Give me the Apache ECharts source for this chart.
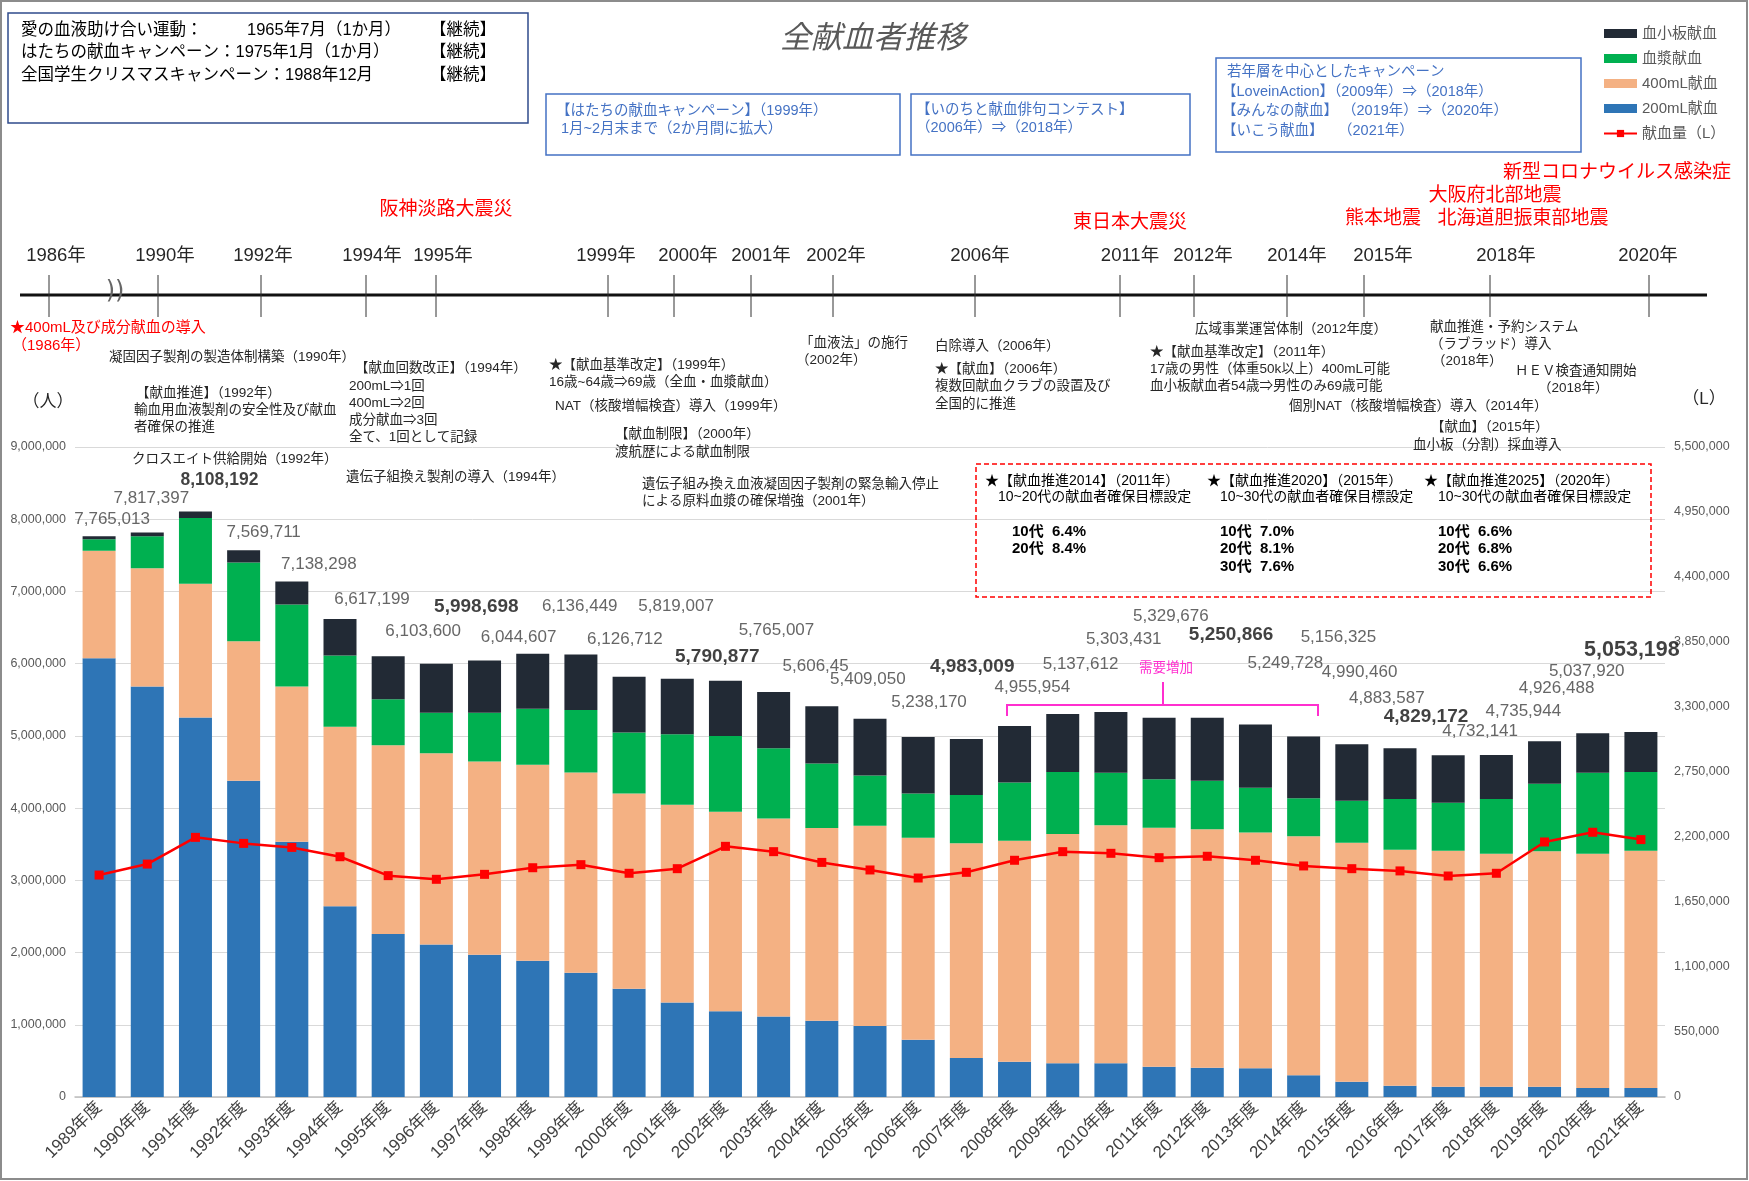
<!DOCTYPE html>
<html>
<head>
<meta charset="utf-8">
<script src="https://cdn.jsdelivr.net/npm/echarts/dist/echarts.min.js"></script>
<style>
  html, body { margin: 0; padding: 0; background: #fff; }
  #chart { width: 1749px; height: 1181px; }
</style>
</head>
<body>
<div id="chart"></div>
<script>
// 年度
const years = ['1989年度','1990年度','1991年度','1992年度','1993年度','1994年度','1995年度','1996年度','1997年度','1998年度',
  '1999年度','2000年度','2001年度','2002年度','2003年度','2004年度','2005年度','2006年度','2007年度','2008年度',
  '2009年度','2010年度','2011年度','2012年度','2013年度','2014年度','2015年度','2016年度','2017年度','2018年度',
  '2019年度','2020年度','2021年度'];

// 献血者数（人）
const v200 = [6076000,5684000,5255000,4378000,3535000,2640000,2258000,2110000,1968000,1885000,
  1719000,1498000,1309000,1189000,1115000,1055000,982000,794000,540000,489000,
  466000,466000,420000,406000,397000,300000,212000,157000,143000,143000,
  143000,125000,125000];
const v400 = [1486000,1638000,1850000,1933000,2149000,2485000,2612000,2650000,2677000,2714000,
  2774000,2705000,2737000,2760000,2742000,2669000,2774000,2796000,2972000,3060000,
  3175000,3295000,3309000,3300000,3267000,3309000,3309000,3267000,3267000,3226000,
  3258000,3244000,3285000];
const plasma = [161000,443000,913000,1089000,1136000,988000,639000,560000,675000,776000,
  864000,844000,978000,1051000,973000,893000,696000,614000,669000,807000,
  858000,729000,669000,673000,618000,526000,582000,702000,665000,757000,
  937000,1121000,1089000];
const platelet = [42000,52000,90000,170000,318000,504000,595000,679000,725000,761000,
  770000,772000,767000,765000,776000,792000,786000,779000,775000,782000,
  804000,840000,853000,871000,874000,855000,781000,703000,657000,610000,
  588000,548000,554000];
const totals = [7765013,7817397,8108192,7569711,7138298,6617199,6103600,5998698,6044607,6136449,
  6126712,5819007,5790877,5765007,5606450,5409050,5238170,4983009,4955954,5137612,
  5303431,5329676,5250866,5249728,5156325,4990460,4883587,4829172,4732141,4735944,
  4926488,5037920,5053198];
const totalText = ['7,765,013','7,817,397','8,108,192','7,569,711','7,138,298','6,617,199','6,103,600','5,998,698','6,044,607','6,136,449',
  '6,126,712','5,819,007','5,790,877','5,765,007','5,606,45','5,409,050','5,238,170','4,983,009','4,955,954','5,137,612',
  '5,303,431','5,329,676','5,250,866','5,249,728','5,156,325','4,990,460','4,883,587','4,829,172','4,732,141','4,735,944',
  '4,926,488','5,037,920','5,053,198'];
// 献血量（L）
const volume = [1878000,1971000,2197000,2146000,2112000,2033000,1873000,1842000,1884000,1940000,
  1966000,1893000,1932000,2121000,2076000,1985000,1921000,1853000,1901000,2003000,
  2076000,2062000,2025000,2037000,2003000,1955000,1932000,1913000,1870000,1893000,
  2158000,2240000,2178000];

// 合計ラベルのずらし（px）
const labelOffset = [[13,-17],[4,-34],[24,-31],[20,-18],[27,-17],[32,-20],[35,-25],[40,-57],[34,-23],[47,-47],
  [44,-15],[47,-70],[40,-22],[51,-50],[42,-26],[46,-27],[59,-16],[54,-70],[66,-52],[66,-62],
  [61,-75],[60,-96],[72,-83],[78,-55],[83,-87],[56,-64],[35,-46],[26,-31],[32,-24],[27,-44],
  [12,-53],[-6,-62],[-9,-82]];
const boldIdx = [2,7,12,17,22,27,32];
const boldSize = { 2: 17.5, 32: 21.5 };

// 年表
const timelineYears = ['1986年','1990年','1992年','1994年','1995年','1999年','2000年','2001年','2002年',
  '2006年','2011年','2012年','2014年','2015年','2018年','2020年'];
const tickX = [49,158,261,366,436,608,674,751,833,975,1120,1194,1287,1364,1490,1649];
const yearLabelX = [56,165,263,372,443,606,688,761,836,980,1130,1203,1297,1383,1506,1648];

const FONT = "'Liberation Sans','Noto Sans CJK JP',sans-serif";
const JP = "'Noto Sans CJK JP',sans-serif";

// 注記テキスト [text, x, y]
const notes = [
  ['凝固因子製剤の製造体制構築（1990年）', 109, 357],
  ['【献血推進】（1992年）', 136, 393],
  ['輸血用血液製剤の安全性及び献血', 134, 410],
  ['者確保の推進', 134, 427],
  ['クロスエイト供給開始（1992年）', 132, 459],
  ['【献血回数改正】（1994年）', 355, 368],
  ['200mL⇒1回', 349, 386],
  ['400mL⇒2回', 349, 403],
  ['成分献血⇒3回', 349, 420],
  ['全て、1回として記録', 349, 437],
  ['遺伝子組換え製剤の導入（1994年）', 346, 477],
  ['★【献血基準改定】（1999年）', 549, 365],
  ['16歳~64歳⇒69歳（全血・血漿献血）', 549, 382],
  ['NAT（核酸増幅検査）導入（1999年）', 555, 406],
  ['【献血制限】（2000年）', 615, 434],
  ['渡航歴による献血制限', 615, 452],
  ['遺伝子組み換え血液凝固因子製剤の緊急輸入停止', 642, 484],
  ['による原料血漿の確保増強（2001年）', 642, 501],
  ['「血液法」の施行', 800, 343],
  ['（2002年）', 796, 360],
  ['白除導入（2006年）', 935, 346],
  ['★【献血】（2006年）', 935, 369],
  ['複数回献血クラブの設置及び', 935, 386],
  ['全国的に推進', 935, 404],
  ['広域事業運営体制（2012年度）', 1195, 329],
  ['★【献血基準改定】（2011年）', 1150, 352],
  ['17歳の男性（体重50k以上）400mL可能', 1150, 369],
  ['血小板献血者54歳⇒男性のみ69歳可能', 1150, 386],
  ['個別NAT（核酸増幅検査）導入（2014年）', 1289, 406],
  ['【献血】（2015年）', 1431, 427],
  ['血小板（分割）採血導入', 1413, 445],
  ['献血推進・予約システム', 1430, 327],
  ['（ラブラッド）導入', 1430, 344],
  ['（2018年）', 1432, 361],
  ['ＨＥＶ検査通知開始', 1515, 371],
  ['（2018年）', 1538, 388]
];

const disasters = [
  ['阪神淡路大震災', 446, 208],
  ['東日本大震災', 1130, 221],
  ['熊本地震', 1383, 217],
  ['大阪府北部地震', 1495, 194],
  ['北海道胆振東部地震', 1523, 217],
  ['新型コロナウイルス感染症', 1617, 171]
];

const targetBox = [
  ['★【献血推進2014】（2011年）', 985, 481],
  ['10~20代の献血者確保目標設定', 998, 497],
  ['★【献血推進2020】（2015年）', 1207, 481],
  ['10~30代の献血者確保目標設定', 1220, 497],
  ['★【献血推進2025】（2020年）', 1424, 481],
  ['10~30代の献血者確保目標設定', 1438, 497]
];
const targetRates = [
  ['10代  6.4%', 1012, 532], ['20代  8.4%', 1012, 549],
  ['10代  7.0%', 1220, 532], ['20代  8.1%', 1220, 549], ['30代  7.6%', 1220, 567],
  ['10代  6.6%', 1438, 532], ['20代  6.8%', 1438, 549], ['30代  6.6%', 1438, 567]
];

function txt(t, x, y, opt) {
  opt = opt || {};
  return {
    type: 'text', x: x, y: y, z: 50,
    style: {
      text: t,
      fill: opt.color || '#262626',
      font: (opt.weight || 'normal') + ' ' + (opt.size || 13.5) + 'px ' + (opt.family || FONT),
      textAlign: opt.align || 'left',
      textVerticalAlign: 'middle'
    }
  };
}

const graphics = [];
// 外枠
graphics.push({ type: 'rect', shape: { x: 1, y: 1, width: 1746, height: 1178 }, style: { fill: 'rgba(0,0,0,0)', stroke: '#8c8c8c', lineWidth: 2 }, z: 1 });
// タイトル
graphics.push(txt('全献血者推移', 873, 36, { size: 31, color: '#595959', weight: 'italic', family: JP, align: 'center' }));
// 左上の枠
graphics.push({ type: 'rect', shape: { x: 8, y: 13, width: 520, height: 110 }, style: { fill: 'rgba(0,0,0,0)', stroke: '#2f4b8c', lineWidth: 1.5 }, z: 10 });
graphics.push(txt('愛の血液助け合い運動：', 21, 30, { size: 16.5, color: '#000' }));
graphics.push(txt('1965年7月（1か月）', 247, 30, { size: 16.5, color: '#000' }));
graphics.push(txt('はたちの献血キャンペーン：1975年1月（1か月）', 21, 52, { size: 16.5, color: '#000' }));
graphics.push(txt('全国学生クリスマスキャンペーン：1988年12月', 21, 75, { size: 16.5, color: '#000' }));
[30, 52, 75].forEach(function (y) { graphics.push(txt('【継続】', 430, y, { size: 16.5, color: '#000' })); });

// 青枠
const blue = '#4472c4';
function blueBox(x, y, w, h) {
  graphics.push({ type: 'rect', shape: { x: x, y: y, width: w, height: h }, style: { fill: 'rgba(0,0,0,0)', stroke: blue, lineWidth: 1.5 }, z: 10 });
}
blueBox(546, 94, 354, 61);
graphics.push(txt('【はたちの献血キャンペーン】（1999年）', 556, 111, { size: 14.5, color: blue }));
graphics.push(txt('1月~2月末まで（2か月間に拡大）', 561, 129, { size: 14.5, color: blue }));
blueBox(911, 94, 279, 61);
graphics.push(txt('【いのちと献血俳句コンテスト】', 916, 110, { size: 14.5, color: blue }));
graphics.push(txt('（2006年）⇒（2018年）', 916, 128, { size: 14.5, color: blue }));
blueBox(1216, 58, 365, 94);
graphics.push(txt('若年層を中心としたキャンペーン', 1227, 72, { size: 14.5, color: blue }));
graphics.push(txt('【LoveinAction】（2009年）⇒（2018年）', 1222, 92, { size: 14.5, color: blue }));
graphics.push(txt('【みんなの献血】 （2019年）⇒（2020年）', 1222, 111, { size: 14.5, color: blue }));
graphics.push(txt('【いこう献血】　　（2021年）', 1222, 131, { size: 14.5, color: blue }));

// 年表
graphics.push({ type: 'line', shape: { x1: 20, y1: 295, x2: 1707, y2: 295 }, style: { stroke: '#111', lineWidth: 3 }, z: 10 });
tickX.forEach(function (x, i) {
  graphics.push({ type: 'line', shape: { x1: x, y1: 275, x2: x, y2: 317 }, style: { stroke: '#333', lineWidth: 1 }, z: 10 });
  graphics.push(txt(timelineYears[i], yearLabelX[i], 256, { size: 18.5, color: '#262626', align: 'center' }));
});
graphics.push(txt('))', 115, 292, { size: 24, color: '#666', align: 'center', family: "'DejaVu Sans',sans-serif" }));

disasters.forEach(function (d) { graphics.push(txt(d[0], d[1], d[2], { size: 19, color: '#ff0000', align: 'center', family: JP })); });
graphics.push(txt('★400mL及び成分献血の導入', 10, 328, { size: 15, color: '#ff0000' }));
graphics.push(txt('（1986年）', 12, 346, { size: 15, color: '#ff0000' }));

notes.forEach(function (n) { graphics.push(txt(n[0], n[1], n[2], { size: 13.5 })); });

// 目標設定の枠
graphics.push({ type: 'rect', shape: { x: 976, y: 464, width: 675, height: 133 }, style: { fill: 'rgba(255,255,255,0)', stroke: '#ff0000', lineWidth: 1.5, lineDash: [5, 3] }, z: 10 });
targetBox.forEach(function (n) { graphics.push(txt(n[0], n[1], n[2], { size: 14, color: '#000' })); });
targetRates.forEach(function (n) { graphics.push(txt(n[0], n[1], n[2], { size: 15, color: '#000', weight: 'bold' })); });

// 需要増加
const pink = '#ff2fcf';
graphics.push({ type: 'polyline', shape: { points: [[1007, 716], [1007, 705], [1318, 705], [1318, 716]] }, style: { stroke: pink, lineWidth: 2, fill: null }, z: 10 });
graphics.push({ type: 'line', shape: { x1: 1163, y1: 705, x2: 1163, y2: 682 }, style: { stroke: pink, lineWidth: 2 }, z: 10 });
graphics.push(txt('需要増加', 1166, 668, { size: 13.5, color: pink, align: 'center' }));

// 軸名
graphics.push(txt('（人）', 48, 402, { size: 17, color: '#262626', align: 'center' }));
graphics.push(txt('（L）', 1704, 399, { size: 17, color: '#262626', align: 'center' }));

const totalData = totals.map(function (v, i) {
  const bold = boldIdx.indexOf(i) >= 0;
  return {
    value: v,
    label: {
      fontSize: bold ? (boldSize[i] || 19) : 17,
      fontWeight: bold ? 'bold' : 'normal',
      color: bold ? '#111' : '#404040'
    }
  };
});

const chart = echarts.init(document.getElementById('chart'), null, { renderer: 'canvas' });
const option = {
  backgroundColor: '#ffffff',
  animation: false,
  textStyle: { fontFamily: FONT },
  grid: { left: 75, right: 84, top: 447, bottom: 84, containLabel: false },
  legend: {
    orient: 'vertical', left: 1598, top: 21,
    itemWidth: 33, itemHeight: 9, itemGap: 10,
    textStyle: { fontSize: 15, color: '#595959', lineHeight: 15, fontFamily: FONT },
    data: [
      { name: '血小板献血', icon: 'rect' },
      { name: '血漿献血', icon: 'rect' },
      { name: '400mL献血', icon: 'rect' },
      { name: '200mL献血', icon: 'rect' },
      { name: '献血量（L）' }
    ]
  },
  xAxis: {
    type: 'category', data: years,
    axisLine: { lineStyle: { color: '#bfbfbf', width: 1.5 } },
    axisTick: { show: false },
    axisLabel: { rotate: 45, fontSize: 17, color: '#404040', margin: 8, interval: 0 }
  },
  yAxis: [
    {
      type: 'value', min: 0, max: 9000000, interval: 1000000,
      axisLine: { show: false }, axisTick: { show: false },
      axisLabel: { fontSize: 12.5, color: '#595959', margin: 9, formatter: function (v) { return v.toLocaleString('en-US'); } },
      splitLine: { lineStyle: { color: '#d9d9d9', width: 1 } }
    },
    {
      type: 'value', min: 0, max: 5500000, interval: 550000,
      axisLine: { show: false }, axisTick: { show: false },
      axisLabel: { fontSize: 12.5, color: '#595959', margin: 9, formatter: function (v) { return v.toLocaleString('en-US'); } },
      splitLine: { show: false }
    }
  ],
  series: [
    { name: '200mL献血', type: 'bar', stack: 'donors', data: v200, barWidth: 33, itemStyle: { color: '#2e75b6' } },
    { name: '400mL献血', type: 'bar', stack: 'donors', data: v400, barWidth: 33, itemStyle: { color: '#f4b183' } },
    { name: '血漿献血', type: 'bar', stack: 'donors', data: plasma, barWidth: 33, itemStyle: { color: '#00b050' } },
    { name: '血小板献血', type: 'bar', stack: 'donors', data: platelet, barWidth: 33, itemStyle: { color: '#222a35' } },
    {
      name: '献血量（L）', type: 'line', yAxisIndex: 1, data: volume,
      symbol: 'rect', symbolSize: 9,
      lineStyle: { color: '#ff0000', width: 2.5 },
      itemStyle: { color: '#ff0000' }, z: 5
    },
    {
      name: 'total', type: 'scatter', data: totalData, symbolSize: 1,
      itemStyle: { color: 'rgba(0,0,0,0)' }, silent: true, z: 6,
      label: {
        show: true, position: 'inside',
        formatter: function (p) { return totalText[p.dataIndex]; },
        fontFamily: FONT
      },
      labelLayout: function (p) {
        const o = labelOffset[p.dataIndex];
        return { dx: o[0], dy: o[1], hideOverlap: false };
      }
    }
  ],
  graphic: graphics
};
chart.setOption(option);
</script>
</body>
</html>
